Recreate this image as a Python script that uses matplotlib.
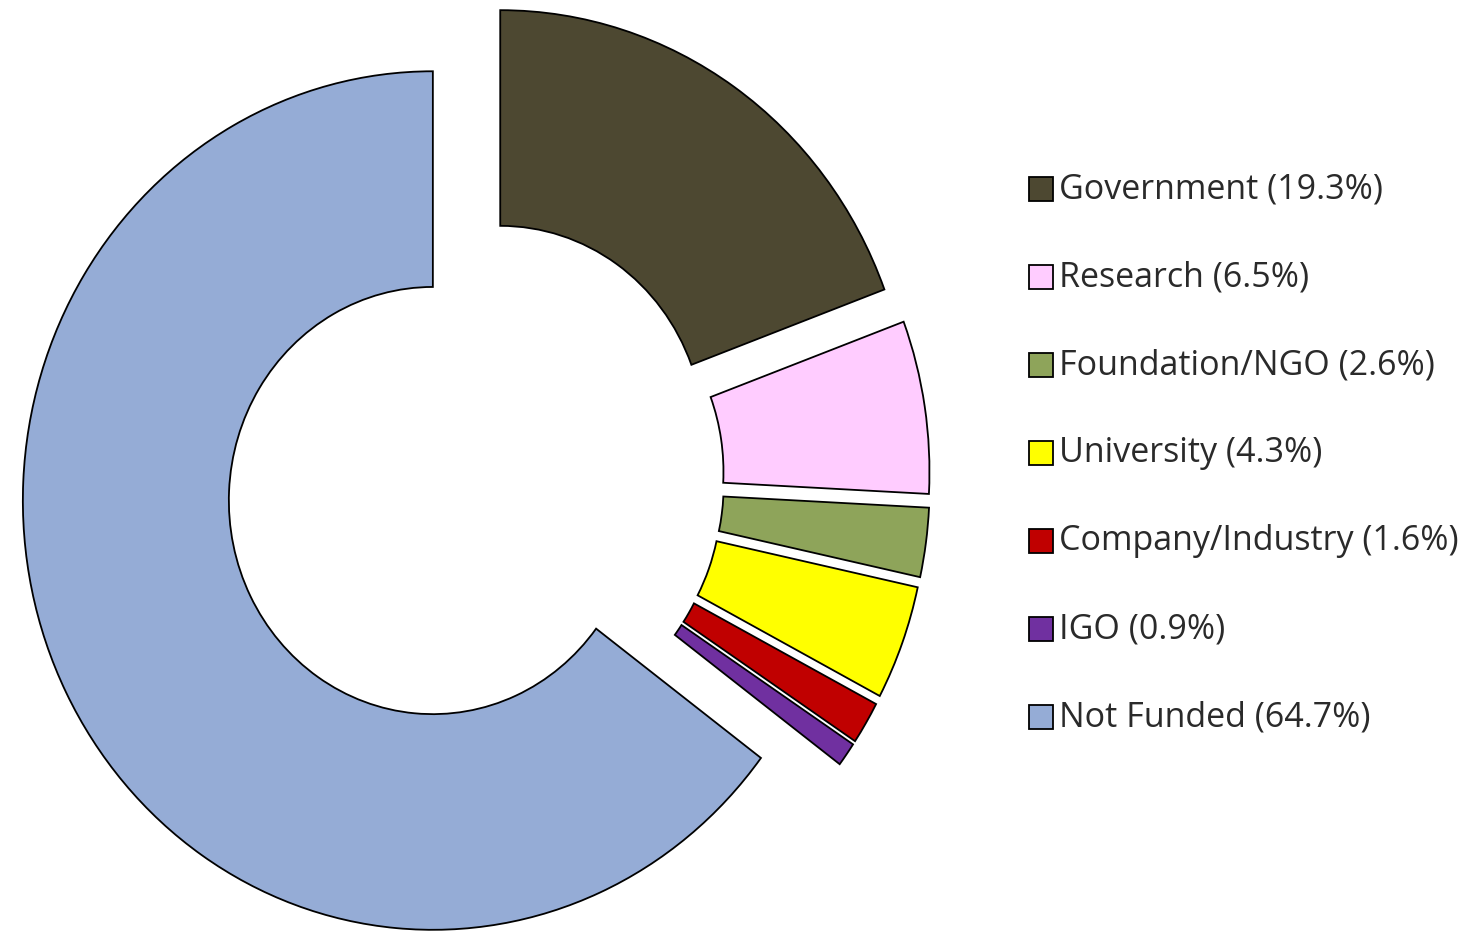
import matplotlib
matplotlib.use("Agg")
import matplotlib.pyplot as plt
from matplotlib.patches import Rectangle

categories = ["Government", "Research", "Foundation/NGO", "University",
              "Company/Industry", "IGO", "Not Funded"]
shares = [19.3, 6.5, 2.6, 4.3, 1.6, 0.9, 64.7]
colors = ["#4d4831", "#ffccff", "#8ea45a", "#ffff00", "#c00000", "#7030a0", "#95acd6"]

W, H = 1470, 932
SY = 1.047  # vertical stretch of the ring (pixels per data unit in y)

fig = plt.figure(figsize=(W / 100, H / 100), dpi=100)
ax = fig.add_axes([0, 0, 1, 1])

cx, cy = 474, (H - 479) / SY
radius, ring = 410, 206
gap = 46

ax.pie(shares, colors=colors, startangle=90, counterclock=False,
       center=(cx, cy), radius=radius, explode=[gap] * len(shares),
       wedgeprops=dict(width=ring, edgecolor="black", linewidth=1.3),
       frame=True)
ax.set_xlim(0, W)
ax.set_ylim(0, H / SY)
ax.set_aspect("auto")
ax.axis("off")

# legend: swatch + label per category, placed in pixel coordinates
x0, y0, step, sw = 1029, H - 189, 88, 24
for i, (name, val, col) in enumerate(zip(categories, shares, colors)):
    y = y0 - i * step
    fig.patches.append(Rectangle((x0 / W, (y - sw / 2) / H), sw / W, sw / H,
                                 facecolor=col, edgecolor="black", linewidth=1.3,
                                 transform=fig.transFigure, figure=fig))
    fig.text((x0 + sw + 6) / W, y / H, f"{name} ({val}%)", va="center", ha="left",
             fontsize=24.5, family="Open Sans", color="#2a2a2a")

fig.savefig("out.png", dpi=100)
